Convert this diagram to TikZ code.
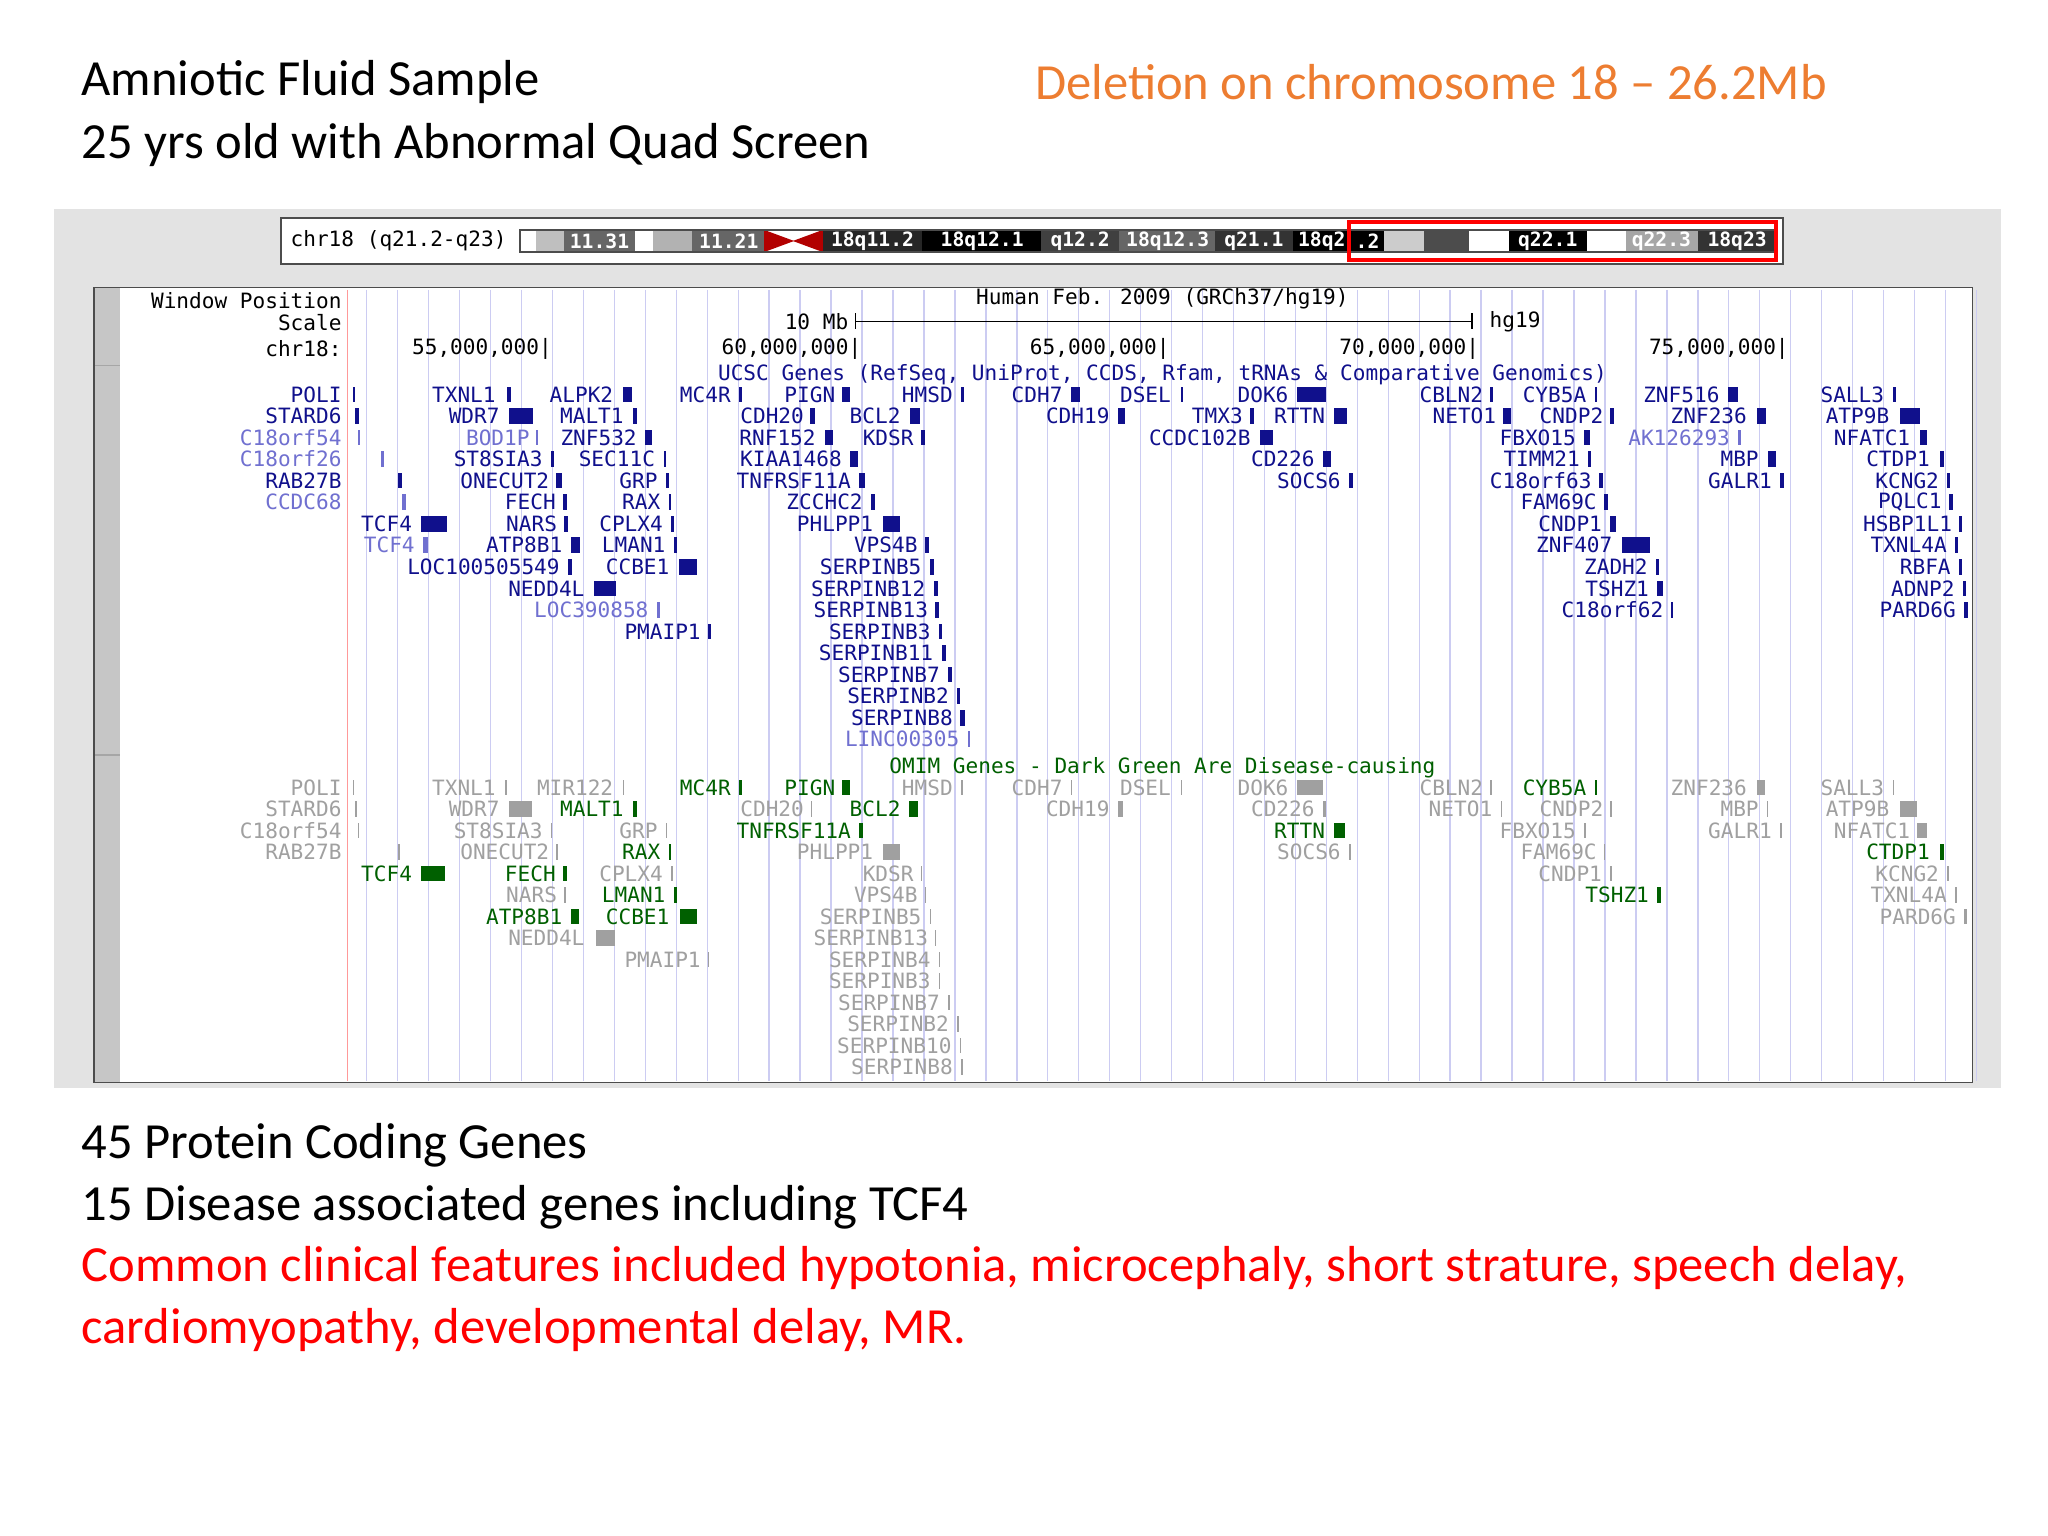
\documentclass[tikz,border=0pt]{standalone}
\usepackage{fontspec}
\setmainfont{Carlito}
\newfontfamily\mono{DejaVu Sans Mono}
\definecolor{nv}{HTML}{10108C}
\definecolor{lb}{HTML}{7070D0}
\definecolor{dg}{HTML}{006000}
\definecolor{gy}{HTML}{A0A0A0}
\definecolor{og}{HTML}{ED7D31}
\definecolor{vl}{HTML}{CCCCF2}
\tikzset{gt/.style={font=\mono\fontsize{6}{7}\selectfont,inner sep=0pt,anchor=east},
 ttl/.style={font=\fontsize{14.4}{17}\selectfont,inner sep=0pt,anchor=west},
 bl/.style={font=\mono\fontsize{5.6}{6}\selectfont\bfseries,text=white,inner sep=0pt}}
\begin{document}
\begin{tikzpicture}[x=0.01306cm,y=-0.01306cm]
\useasboundingbox (0,0) rectangle (1568,1176);
\node[ttl] (t1) at (62,63) {Amniotic Fluid Sample};
\node[ttl] (t2) at (62,111) {25 yrs old with Abnormal Quad Screen};
\node[ttl,text=og] (t3) at (792,63) {Deletion on chromosome 18 – 26.2Mb};
\node[ttl] (b1) at (62,877) {45 Protein Coding Genes};
\node[ttl] (b2) at (62,924) {15 Disease associated genes including TCF4};
\node[ttl,text=red] (b3) at (62,971) {Common clinical features included hypotonia, microcephaly, short strature, speech delay,};
\node[ttl,text=red] (b4) at (62,1018) {cardiomyopathy, developmental delay, MR.};
% panel
\fill[gray!22] (41,160) rectangle (1532,833);
\fill[white,draw=black!70] (215,167) rectangle (1365,202);
\node[gt,anchor=west,text=black] (chr) at (222,184) {chr18 (q21.2-q23)};
\foreach \a/\b/\c in {398/410/white,410/432/gray!50,432/486/gray!80!black,486/500/white,500/530/gray!60,530/585/gray!80!black,630/706/black!85,706/797/black,797/857/black!75,857/930/black!60,930/990/black!80,990/1035/black,1035/1060/black,1060/1090/gray!40,1090/1125/black!70,1125/1155/white,1155/1215/black,1215/1245/white,1245/1300/gray!70,1300/1360/black!80}
  \fill[\c] (\a,176) rectangle (\b,193);
\fill[red!70!black] (585,176) -- (608,184.5) -- (585,193) -- cycle;
\fill[red!70!black] (630,176) -- (607,184.5) -- (630,193) -- cycle;
\draw[black!70] (398,176) rectangle (1360,193);
\foreach \x/\t in {459/11.31,558/11.21,668/18q11.2,752/18q12.1,827/q12.2,894/18q12.3,960/q21.1,1012/18q2,1047/.2,1185/q22.1,1272/q22.3,1330/18q23}
  \node[bl] at (\x,184.5) {\t};
\draw[red,line width=1.2pt] (1033,170) rectangle (1360,199);
% browser window
\fill[white] (72,220) rectangle (1510,829);
\fill[gray!45] (72,220) rectangle (92,829);
\draw[gray!70] (72,280) -- (92,280) (72,578) -- (92,578);
\foreach \k in {-6,...,46} \draw[vl] ({423+23.7*\k},222) -- ({423+23.7*\k},828);
\draw[red!40] (266,222) -- (266,828);
\draw[black!70] (72,220) rectangle (1510,829);
\node[gt,text=black] at (262,230) {Window Position};
\node[gt,text=black] at (262,247) {Scale};
\node[gt,text=black] at (262,267) {chr18:};
\node[gt,anchor=center,text=black] at (890,229) {Human Feb. 2009 (GRCh37/hg19)};
\node[gt,text=black] at (650,246) {10 Mb};
\draw (655,246) -- (1127,246) (655,240) -- (655,252) (1127,240) -- (1127,252);
\node[gt,anchor=west,text=black] at (1140,246) {hg19};
\foreach \x/\t in {423/55,660/60,896/65,1133/70,1370/75}
  \node[gt,text=black] at (\x,267) {\t,000,000|};
\node[gt,anchor=center,text=nv] at (890,287) {UCSC Genes (RefSeq, UniProt, CCDS, Rfam, tRNAs \& Comparative Genomics)};
\node[gt,anchor=center,text=dg] at (890,588) {OMIM Genes - Dark Green Are Disease-causing};
% UCSC genes: endx/row/name/color/bar1/bar2
\foreach \x/\r/\n/\c/\a/\b in {
262/0/POLI/nv/270/272,380/0/TXNL1/nv/388/391,470/0/ALPK2/nv/477/484,560/0/MC4R/nv/566/568,640/0/PIGN/nv/645/651,730/0/HMSD/nv/736/738,814/0/CDH7/nv/820/827,897/0/DSEL/nv/904/906,987/0/DOK6/nv/993/1015,1136/0/CBLN2/nv/1141/1143,1215/0/CYB5A/nv/1221/1223,1317/0/ZNF516/nv/1323/1331,1443/0/SALL3/nv/1449/1452,
262/1/STARD6/nv/272/275,383/1/WDR7/nv/390/408,478/1/MALT1/nv/485/488,616/1/CDH20/nv/620/624,690/1/BCL2/nv/697/704,850/1/CDH19/nv/856/861,952/1/TMX3/nv/957/960,1015/1/RTTN/nv/1021/1031,1146/1/NETO1/nv/1151/1157,1228/1/CNDP2/nv/1233/1236,1338/1/ZNF236/nv/1345/1352,1447/1/ATP9B/nv/1455/1470,
262/2/C18orf54/lb/274/276,406/2/BOD1P/lb/410/412,488/2/ZNF532/nv/494/499,625/2/RNF152/nv/632/638,700/2/KDSR/nv/705/708,958/2/CCDC102B/nv/965/975,1207/2/FBXO15/nv/1213/1217,1325/2/AK126293/lb/1331/1333,1463/2/NFATC1/nv/1470/1475,
262/3/C18orf26/lb/292/294,416/3/ST8SIA3/nv/422/424,502/3/SEC11C/nv/508/510,645/3/KIAA1468/nv/651/657,1007/3/CD226/nv/1013/1019,1210/3/TIMM21/nv/1216/1218,1347/3/MBP/nv/1354/1360,1478/3/CTDP1/nv/1485/1488,
262/4/RAB27B/nv/305/308,421/4/ONECUT2/nv/426/430,504/4/GRP/nv/510/512,652/4/TNFRSF11A/nv/658/662,1027/4/SOCS6/nv/1033/1036,1219/4/C18orf63/nv/1224/1227,1357/4/GALR1/nv/1363/1366,1485/4/KCNG2/nv/1491/1493,
262/5/CCDC68/lb/308/311,426/5/FECH/nv/431/434,506/5/RAX/nv/512/514,661/5/ZCCHC2/nv/667/670,1223/5/FAM69C/nv/1228/1231,1487/5/PQLC1/nv/1492/1495,
316/6/TCF4/nv/322/342,427/6/NARS/nv/432/435,508/6/CPLX4/nv/514/516,669/6/PHLPP1/nv/676/689,1227/6/CNDP1/nv/1233/1237,1495/6/HSBP1L1/nv/1500/1502,
318/7/TCF4/lb/324/328,431/7/ATP8B1/nv/437/444,510/7/LMAN1/nv/516/518,703/7/VPS4B/nv/708/711,1235/7/ZNF407/nv/1242/1263,1491/7/TXNL4A/nv/1497/1499,
429/8/LOC100505549/nv/435/438,513/8/CCBE1/nv/520/534,706/8/SERPINB5/nv/712/715,1262/8/ZADH2/nv/1268/1270,1494/8/RBFA/nv/1500/1502,
448/9/NEDD4L/nv/455/472,709/9/SERPINB12/nv/715/718,1263/9/TSHZ1/nv/1269/1273,1497/9/ADNP2/nv/1503/1505,
497/10/LOC390858/lb/503/505,711/10/SERPINB13/nv/716/719,1274/10/C18orf62/nv/1279/1281,1498/10/PARD6G/nv/1504/1507,
537/11/PMAIP1/nv/542/544,713/11/SERPINB3/nv/719/721,
715/12/SERPINB11/nv/721/724,720/13/SERPINB7/nv/726/729,727/14/SERPINB2/nv/733/735,730/15/SERPINB8/nv/735/739,735/16/LINC00305/lb/741/743}
{\node[gt,text=\c] at (\x,{302+16.5*\r}) {\n};
 \fill[\c] (\a,{302+16.5*\r-6}) rectangle (\b,{302+16.5*\r+6});}
% OMIM genes
\foreach \x/\r/\n/\c/\a/\b in {
262/0/POLI/gy/270/271,380/0/TXNL1/gy/387/388,470/0/MIR122/gy/477/478,560/0/MC4R/dg/566/568,640/0/PIGN/dg/645/651,730/0/HMSD/gy/736/737,814/0/CDH7/gy/820/821,897/0/DSEL/gy/904/905,987/0/DOK6/gy/993/1013,1136/0/CBLN2/gy/1141/1142,1215/0/CYB5A/dg/1221/1223,1338/0/ZNF236/gy/1345/1351,1443/0/SALL3/gy/1449/1450,
262/1/STARD6/gy/272/273,383/1/WDR7/gy/390/407,478/1/MALT1/dg/485/488,616/1/CDH20/gy/621/622,690/1/BCL2/dg/696/703,850/1/CDH19/gy/856/860,1007/1/CD226/gy/1013/1015,1143/1/NETO1/gy/1149/1150,1228/1/CNDP2/gy/1233/1234,1347/1/MBP/gy/1353/1354,1447/1/ATP9B/gy/1455/1468,
262/2/C18orf54/gy/274/275,416/2/ST8SIA3/gy/422/423,504/2/GRP/gy/510/511,652/2/TNFRSF11A/dg/658/661,1015/2/RTTN/dg/1021/1030,1207/2/FBXO15/gy/1213/1214,1357/2/GALR1/gy/1363/1364,1463/2/NFATC1/gy/1468/1475,
262/3/RAB27B/gy/305/306,421/3/ONECUT2/gy/426/427,506/3/RAX/dg/512/514,669/3/PHLPP1/gy/676/689,1027/3/SOCS6/gy/1033/1034,1223/3/FAM69C/gy/1228/1229,1478/3/CTDP1/dg/1485/1488,
316/4/TCF4/dg/322/341,426/4/FECH/dg/431/434,508/4/CPLX4/gy/514/515,700/4/KDSR/gy/705/706,1227/4/CNDP1/gy/1233/1234,1485/4/KCNG2/gy/1491/1492,
427/5/NARS/gy/432/433,510/5/LMAN1/dg/516/518,703/5/VPS4B/gy/708/709,1263/5/TSHZ1/dg/1269/1272,1491/5/TXNL4A/gy/1497/1498,
431/6/ATP8B1/dg/437/443,513/6/CCBE1/dg/521/534,706/6/SERPINB5/gy/712/713,1498/6/PARD6G/gy/1504/1506,
448/7/NEDD4L/gy/456/471,711/7/SERPINB13/gy/716/717,
537/8/PMAIP1/gy/542/543,713/8/SERPINB4/gy/719/720,713/9/SERPINB3/gy/719/720,720/10/SERPINB7/gy/726/727,727/11/SERPINB2/gy/733/734,729/12/SERPINB10/gy/735/736,730/13/SERPINB8/gy/736/737}
{\node[gt,text=\c] at (\x,{603+16.45*\r}) {\n};
 \fill[\c] (\a,{603+16.45*\r-6}) rectangle (\b,{603+16.45*\r+6});}
\end{tikzpicture}
\end{document}
